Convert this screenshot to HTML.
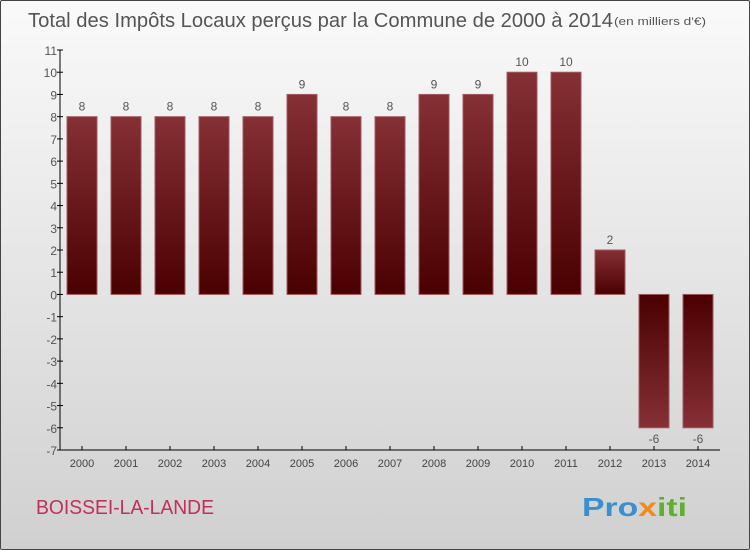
<!DOCTYPE html>
<html><head><meta charset="utf-8"><style>
body{margin:0;width:750px;height:550px;overflow:hidden;font-family:"Liberation Sans",sans-serif}
#wrap{position:absolute;left:0;top:0;width:748px;height:548px;border:1px solid #444;border-radius:2px;background:linear-gradient(#fafafa,#d0d0d0)}
</style></head><body>
<div id="wrap"></div>
<svg id="chart" width="750" height="550" style="position:absolute;left:0;top:0">
<defs>
<linearGradient id="gp" x1="0" y1="0" x2="0" y2="1"><stop offset="0" stop-color="#853035"/><stop offset="1" stop-color="#4a0000"/></linearGradient>
<linearGradient id="gn" x1="0" y1="0" x2="0" y2="1"><stop offset="0" stop-color="#4a0000"/><stop offset="1" stop-color="#853035"/></linearGradient>
</defs>
<text x="28" y="27" font-size="20" fill="#555" textLength="585" lengthAdjust="spacingAndGlyphs">Total des Impôts Locaux perçus par la Commune de 2000 à 2014</text>
<text x="614" y="25" font-size="11" fill="#555" textLength="92" lengthAdjust="spacingAndGlyphs">(en milliers d'€)</text>
<text x="36" y="514" font-size="20" fill="#c0305a" textLength="178" lengthAdjust="spacingAndGlyphs">BOISSEI-LA-LANDE</text>
<text x="582" y="516" font-size="26" font-weight="bold" fill="#3a8fd0" textLength="105" lengthAdjust="spacingAndGlyphs">Pro<tspan fill="#f08a1a">x</tspan><tspan fill="#60b030">iti</tspan></text>
<g id="g"></g>
</svg>
<script>
const categories=["2000","2001","2002","2003","2004","2005","2006","2007","2008","2009","2010","2011","2012","2013","2014"];
const values=[8,8,8,8,8,9,8,8,9,9,10,10,2,-6,-6];
const yTicks=[11,10,9,8,7,6,5,4,3,2,1,0,-1,-2,-3,-4,-5,-6,-7];
const yMin=-7,yMax=11,top_=50,bot=450,axX=60,x0=82,step=44,bw=30;
const y=v=>top_+(yMax-v)*(bot-top_)/(yMax-yMin);
const x=i=>x0+i*step;
const g=document.getElementById('g');const NS="http://www.w3.org/2000/svg";
function mk(t,a,txt){const e=document.createElementNS(NS,t);for(const k in a)e.setAttribute(k,a[k]);if(txt!==undefined)e.textContent=txt;g.appendChild(e);return e;}
values.forEach((v,i)=>{
const r=mk('rect',{x:x(i)-bw/2,y:Math.min(y(v),y(0)),width:bw,height:Math.abs(y(v)-y(0)),fill:v>=0?'url(#gp)':'url(#gn)',stroke:'#a05a60','stroke-width':1});


const t=mk('text',{x:x(i),y:v>=0?y(v)-6:y(v)+15,'font-size':12,fill:'#555','text-anchor':'middle'},String(v));


const xl=mk('text',{x:x(i),y:467,'font-size':11,fill:'#444','text-anchor':'middle'},categories[i]);


mk('line',{x1:x(i),x2:x(i),y1:bot-4,y2:bot,stroke:'#000'});
});
yTicks.forEach(v=>{
mk('line',{x1:axX-3,x2:axX+3,y1:y(v),y2:y(v),stroke:'#000'});
const t=mk('text',{x:axX-3,y:y(v)+5,'font-size':12,fill:'#555','text-anchor':'end'},String(v));


});
const ya=mk('line',{x1:axX,x2:axX,y1:top_,y2:bot,stroke:'#000'});


const xa=mk('line',{x1:axX,x2:720,y1:bot,y2:bot,stroke:'#000'});


</script>
</body></html>
